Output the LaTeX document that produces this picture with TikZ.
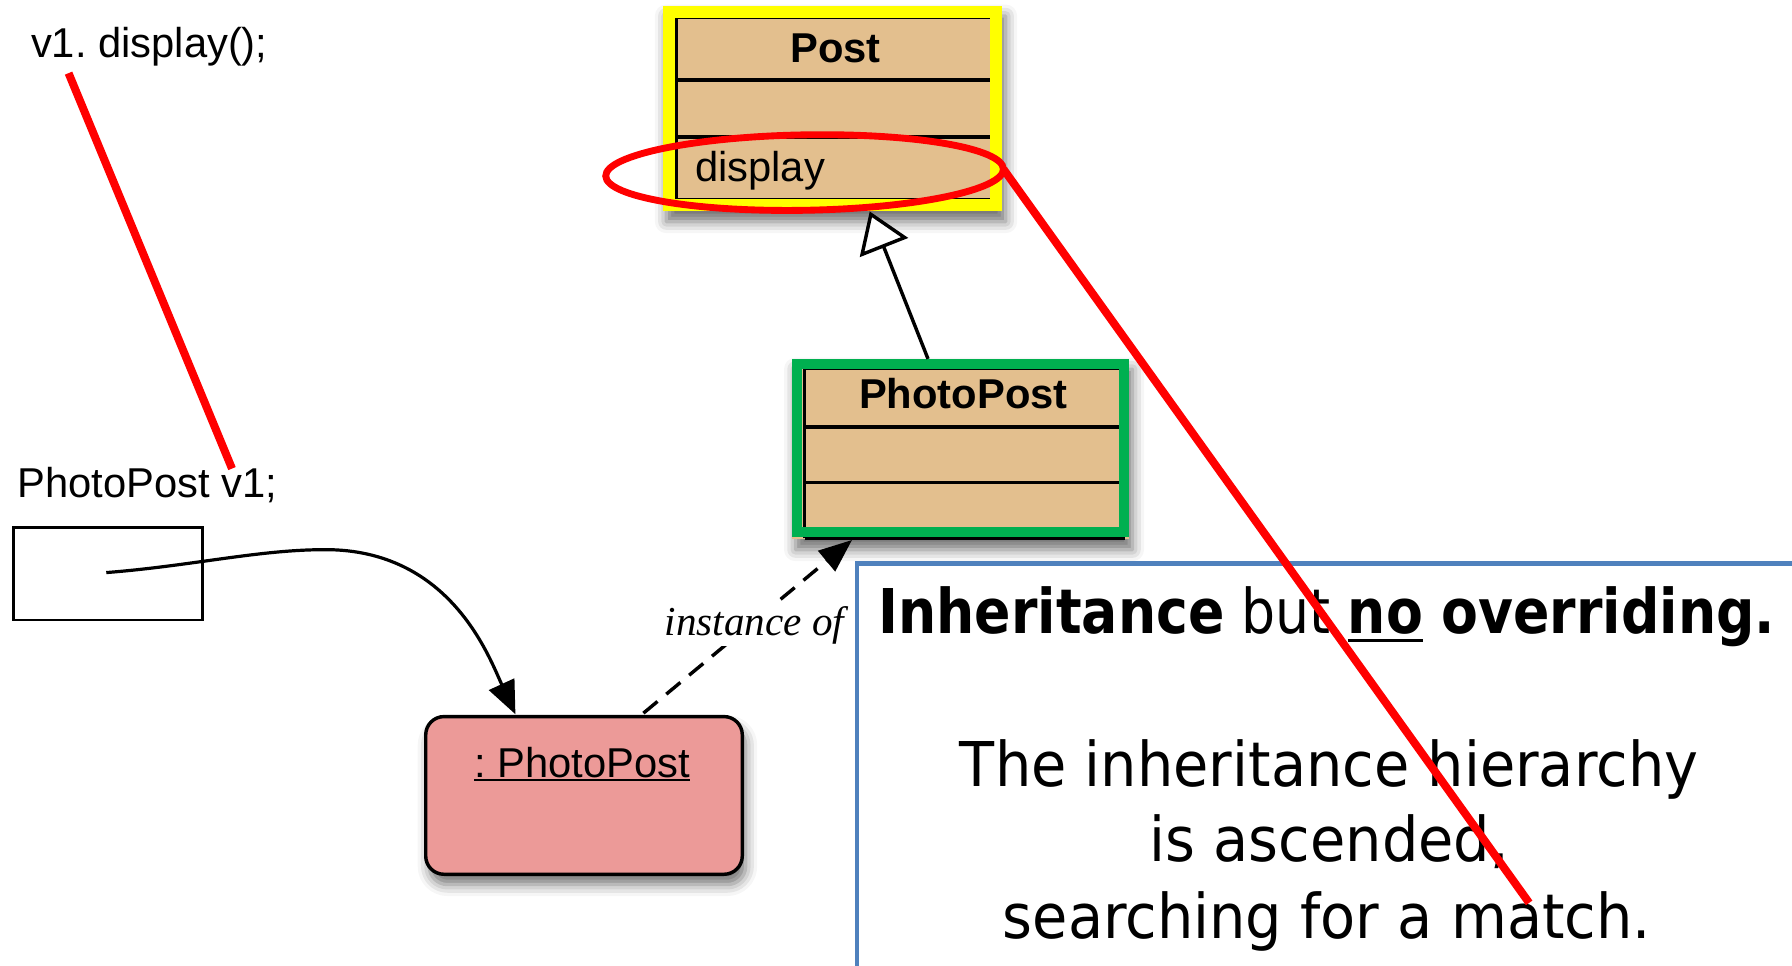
\documentclass[tikz,border=0pt]{standalone}
\usepackage{fontspec}
\usepackage{graphicx}
\setmainfont{Liberation Sans}
\newfontfamily\instfont{Liberation Serif}
\newfontfamily\slidefont{DejaVu Sans}
\usetikzlibrary{arrows.meta,shadows.blur}
\definecolor{classtan}{HTML}{E3BF8E}
\definecolor{hiyellow}{HTML}{FFFF00}
\definecolor{higreen}{HTML}{00B050}
\definecolor{objpink}{HTML}{EC9A98}
\definecolor{slideblue}{HTML}{4F81BD}
\definecolor{markred}{HTML}{FF0000}
\newcommand\ultext[3]{\setbox0=\hbox{#1}\rlap{\raisebox{-#2}{\rule{\wd0}{#3}}}\box0\relax}
\frenchspacing
\begin{document}
\begin{tikzpicture}[x=1pt,y=-1pt,
  lbl/.style={inner sep=0pt, anchor=base west, font=\fontsize{36.5}{40}\selectfont},
  ctitle/.style={inner sep=0pt, anchor=base, font=\fontsize{36.5}{40}\selectfont\bfseries},
  umlline/.style={line width=3pt, draw=black},
  softshadow/.style={blur shadow={shadow xshift=3pt, shadow yshift=-9pt, shadow blur radius=10pt, shadow opacity=55}},
  markline/.style={draw=markred, line width=7pt},
  slidetxt/.style={inner sep=0pt, anchor=base, font=\slidefont\fontsize{54}{66}\selectfont},
]
\useasboundingbox (0,0) rectangle (1568,845.25);

% Post class
\path[fill=classtan, softshadow] (580,5) rectangle (877,185);
\draw[umlline] (592,176) -- (592,15) -- (868,15);
\draw[umlline] (592,70) -- (868,70);
\draw[umlline] (592,120) -- (868,120);
\draw[umlline] (592,174.5) -- (868,174.5);
\draw[draw=hiyellow, line width=10.5pt] (585.25,10.25) rectangle (871.75,179.75);
\node[ctitle] (posttitle) at (731,55) {Post};
\node[lbl] (postop) at (608,159) {display};

% PhotoPost class
\path[fill=classtan, softshadow] (693,314) rectangle (988,472);
\draw[umlline] (704,471) -- (704,322) -- (984,322);
\draw[umlline] (704,373.5) -- (984,373.5);
\draw[umlline] (704,422) -- (984,422);
\draw[draw=higreen, line width=8.5pt] (697.25,318.25) rectangle (983.75,465.25);
\draw[umlline] (704,471) -- (984,471);
\node[ctitle] (pptitle) at (843,357) {PhotoPost};

% variable
\node[lbl] (vdecl) at (15,435) {PhotoPost v1;};
\node[draw, line width=2.5pt, minimum width=166pt, minimum height=81pt, inner sep=0pt, anchor=north west] (vbox) at (10.25,460.25) {};
\coordinate (vref) at (93,501);

% object
\node[draw, line width=3pt, fill=objpink, rounded corners=16pt, minimum width=277pt, minimum height=138pt, inner sep=0pt, anchor=north west, softshadow] (obj) at (371,625.5) {};
\node[lbl, anchor=base] (objname) at (509.5,680) {\ultext{: PhotoPost}{3.5pt}{1.6pt}};

% reference arrow
\coordinate (objin) at (451,625);
\draw[line width=2.8pt, -{Triangle[length=29pt,width=24pt,fill=black]}] (vref) .. controls (170,495) and (230,480) .. (290,481) .. controls (395,484) and (428,575) .. (objin);

% instance-of arrow
\coordinate (instfrom) at (563,624);
\coordinate (instto) at (745.5,472.5);
\draw[line width=3pt, dash pattern=on 16pt off 10pt, -{Triangle[length=29pt,width=23pt,fill=black]}] (instfrom) -- (instto);
\node[inner sep=2pt, fill=white, anchor=base east, font=\instfont\itshape\fontsize{36}{40}\selectfont] (instlbl) at (741,556) {instance of};

% inheritance arrow
\coordinate (ppTop) at (812,314);
\coordinate (postBot) at (761,185);
\draw[line width=3pt, -{Triangle[open, length=34pt, width=45pt, fill=white]}] (ppTop) -- (postBot);

% slide text box
\draw[draw=slideblue, line width=4pt, fill=white] (750,493) rectangle (1620,900);
\node[slidetxt] (l1) at (1161,554) {\scalebox{0.87}[1]{{\bfseries Inheritance} but {\bfseries\ultext{no}{8pt}{3pt} overriding.}}};
\node[slidetxt] (l2) at (1163,688.5) {\scalebox{0.93}[1]{The inheritance hierarchy}};
\node[slidetxt] (l3) at (1163,754) {\scalebox{0.93}[1]{is ascended,}};
\node[slidetxt] (l4) at (1161,821) {\scalebox{0.93}[1]{searching for a match.}};

% red marks
\node[lbl] (call) at (27,50) {v1. display();};
\coordinate (callpt) at (60,64);
\coordinate (declpt) at (203,410);
\draw[markline] (callpt) -- (declpt);
\coordinate (ellc) at (704,151);
\draw[draw=markred, line width=6pt, rotate around={1:(ellc)}] (ellc) ellipse [x radius=174, y radius=33];
\coordinate (ellend) at (878,148);
\coordinate (matchpt) at (1338,790);
\draw[markline] (ellend) -- (matchpt);
\end{tikzpicture}
\end{document}
